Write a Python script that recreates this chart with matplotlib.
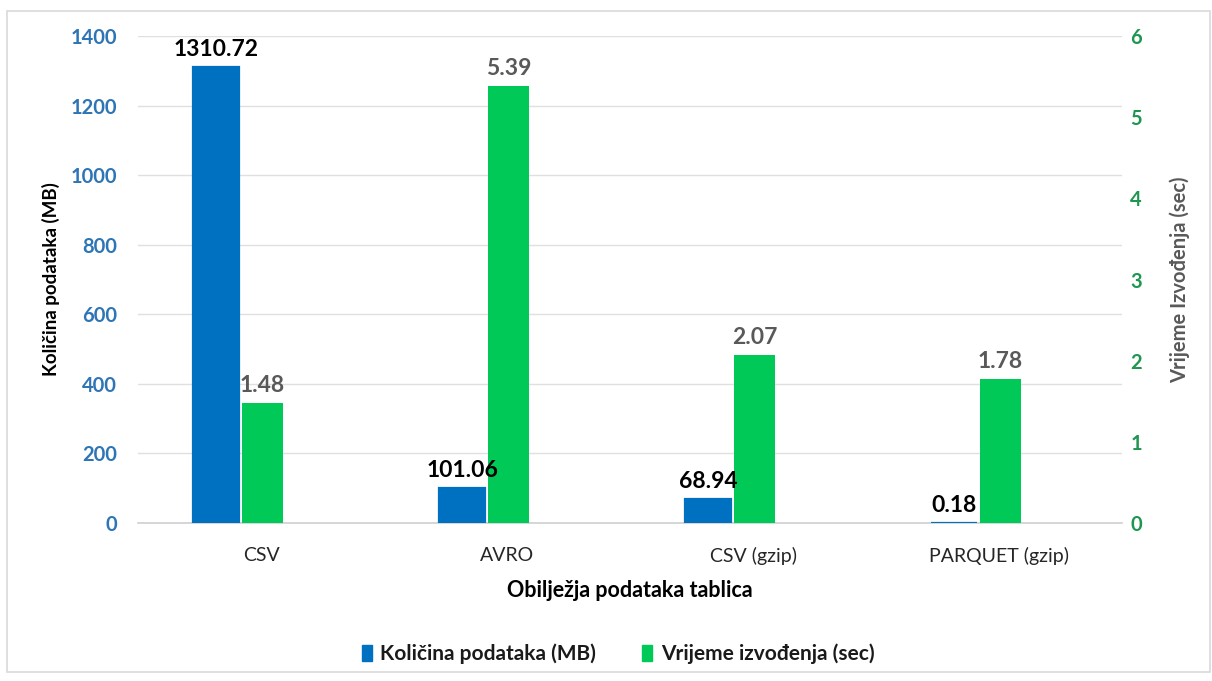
import numpy as np
import matplotlib.pyplot as plt
from matplotlib.patches import Patch, Rectangle

plt.rcParams['font.family'] = ['Lato', 'DejaVu Sans']

#===================== data =====================
categories = ["CSV", "AVRO", "CSV (gzip)", "PARQUET (gzip)"]
size_mb = [1310.72, 101.06, 68.94, 0.18]
time_sec = [1.48, 5.39, 2.07, 1.78]
size_ticks = [0, 200, 400, 600, 800, 1000, 1200, 1400]
time_ticks = [0, 1, 2, 3, 4, 5, 6]

blue = '#0070C0'
green = '#00C957'
blue_txt = '#2E75B6'
green_txt = '#1E9650'
grey_txt = '#595959'

#===================== plot =====================
fig = plt.figure(figsize=(12.12, 6.81), dpi=100)
# chart border
fig.patches.append(Rectangle((7/1212, 9/681), 1203/1212, 661/681, transform=fig.transFigure,
                             fill=False, edgecolor='#D9D9D9', linewidth=1.2))

ax1 = fig.add_axes([138/1212, 158/681, 984/1212, 487/681])
ax2 = ax1.twinx()

x = np.arange(len(categories))
# edge keeps the tiny 0.18 bar visible as a thin line
b1 = ax1.bar(x - 0.181, size_mb, width=0.187, color=blue, edgecolor=blue, linewidth=1.6, zorder=3)
b2 = ax2.bar(x + 0.006, time_sec, width=0.167, color=green, zorder=3)

ax1.set_xlim(-0.5, len(categories) - 0.5)
ax1.set_ylim(0, 1400)
ax2.set_ylim(0, 6)

ax1.set_yticks(size_ticks)
ax2.set_yticks(time_ticks)
ax1.yaxis.grid(True, color='#E0E0E0', linewidth=1, zorder=0)
ax1.set_axisbelow(True)

for a in (ax1, ax2):
    for s in a.spines.values():
        s.set_visible(False)
ax1.spines['bottom'].set_visible(True)
ax1.spines['bottom'].set_color('#D0D0D0')
ax1.spines['bottom'].set_linewidth(1.2)

ax1.tick_params(axis='y', length=0, pad=15, labelsize=14.5, labelcolor=blue_txt)
ax2.tick_params(axis='y', length=0, pad=6, labelsize=14.5, labelcolor=green_txt)
for lab in ax1.get_yticklabels() + ax2.get_yticklabels():
    lab.set_fontweight('bold')

ax1.set_xticks(x)
ax1.set_xticklabels(categories, fontsize=14, color='#262626')
ax1.tick_params(axis='x', length=0, pad=17)

ax1.set_xlabel('Obilježja podataka tablica', fontsize=15.5, fontweight='bold', labelpad=11)
ax1.set_ylabel('Količina podataka (MB)', fontsize=13.5, fontweight='bold')
ax1.yaxis.set_label_coords(-0.079, 0.5)
ax2.set_ylabel('Vrijeme Izvođenja (sec)', fontsize=14.5, fontweight='bold', color=grey_txt)
ax2.yaxis.set_label_coords(1.048, 0.5)

# value labels (all drawn on ax2 so they sit above the bars)
for rect, v in zip(b1, size_mb):
    ax2.annotate(f'{v:.2f}', (rect.get_x() + rect.get_width() / 2, rect.get_height()),
                 xycoords=ax1.transData, xytext=(0, 5), textcoords='offset points',
                 ha='center', va='bottom', fontsize=16.5, fontweight='bold', color='black', zorder=5)
for rect, v in zip(b2, time_sec):
    ax2.annotate(f'{v:.2f}', (rect.get_x() + rect.get_width() / 2, rect.get_height()),
                 xytext=(0, 5), textcoords='offset points', ha='center', va='bottom',
                 fontsize=16.5, fontweight='bold', color=grey_txt, zorder=5)

handles = [Patch(color=blue), Patch(color=green)]
leg = fig.legend(handles, ['Količina podataka (MB)', 'Vrijeme izvođenja (sec)'], loc='center',
                 bbox_to_anchor=(618/1212, 27/681), ncol=2, frameon=False,
                 prop={'size': 15, 'weight': 'bold'},
                 handlelength=0.5, handleheight=0.8, handletextpad=0.4, columnspacing=2.2)
for t in leg.get_texts():
    t.set_color('#1A1A1A')

plt.savefig('out.png', dpi=100)
